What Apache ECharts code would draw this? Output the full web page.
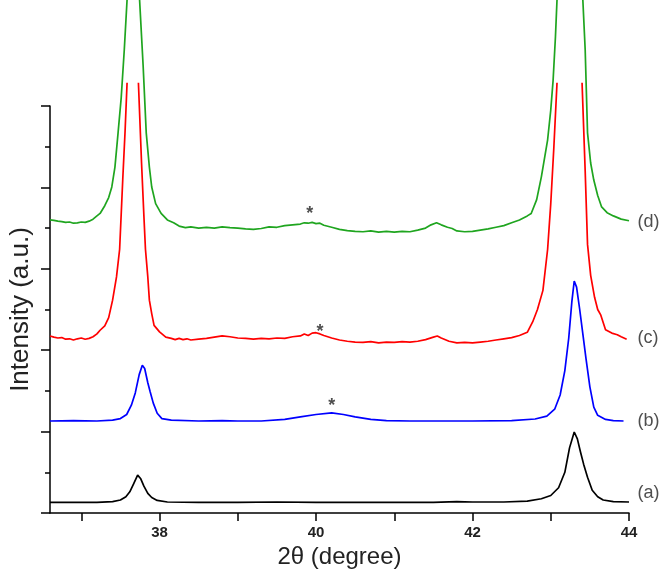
<!DOCTYPE html>
<html><head><meta charset="utf-8">
<script src="https://cdn.jsdelivr.net/npm/echarts@6/dist/echarts.min.js"></script>
<style>html,body{margin:0;padding:0;background:#fff}#c{width:661px;height:576px}</style>
</head><body><div id="c"></div>
<script>
// x-axis tick positions and labels
const xTickValues = [37, 38, 39, 40, 41, 42, 43, 44];
const xLabelValues = [38, 40, 42, 44];

// (a) black
const curveA = [[36.6,0.26],[36.9,0.26],[37.2,0.26],[37.4,0.28],[37.5,0.32],[37.57,0.40],[37.62,0.52],[37.67,0.72],[37.72,0.93],[37.76,0.84],[37.8,0.66],[37.85,0.48],[37.9,0.38],[37.97,0.31],[38.1,0.27],[38.5,0.26],[39.0,0.26],[39.5,0.27],[40.0,0.26],[40.5,0.26],[41.0,0.26],[41.5,0.26],[41.8,0.28],[42.0,0.27],[42.4,0.27],[42.7,0.29],[42.88,0.35],[43.0,0.43],[43.1,0.62],[43.18,1.0],[43.24,1.6],[43.3,1.99],[43.34,1.82],[43.38,1.5],[43.42,1.2],[43.47,0.88],[43.53,0.56],[43.6,0.40],[43.67,0.32],[43.8,0.28],[44.0,0.27]];

// (b) blue
const curveB = [[36.6,2.26],[36.9,2.27],[37.2,2.26],[37.4,2.28],[37.5,2.32],[37.58,2.42],[37.64,2.65],[37.69,2.95],[37.74,3.40],[37.78,3.63],[37.81,3.55],[37.85,3.2],[37.88,2.98],[37.92,2.70],[37.97,2.45],[38.03,2.32],[38.15,2.28],[38.5,2.26],[38.8,2.27],[39.0,2.26],[39.3,2.26],[39.6,2.30],[39.8,2.36],[40.0,2.42],[40.2,2.46],[40.35,2.42],[40.5,2.36],[40.7,2.30],[40.9,2.27],[41.2,2.26],[41.6,2.26],[42.0,2.26],[42.5,2.27],[42.8,2.31],[42.95,2.38],[43.05,2.55],[43.12,2.9],[43.18,3.5],[43.23,4.3],[43.27,5.2],[43.3,5.7],[43.33,5.55],[43.37,5.0],[43.41,4.4],[43.45,3.8],[43.5,3.1],[43.55,2.6],[43.6,2.40],[43.7,2.30],[43.8,2.27],[43.93,2.26]];

// (c) red (peak tops cut off in the original)
const curveC = [[36.6,4.35],[36.65,4.32],[36.7,4.30],[36.75,4.31],[36.8,4.27],[36.85,4.28],[36.9,4.25],[36.95,4.28],[37.0,4.30],[37.05,4.27],[37.1,4.29],[37.15,4.33],[37.2,4.40],[37.24,4.49],[37.3,4.6],[37.35,4.8],[37.4,5.23],[37.45,5.8],[37.49,6.48],[37.53,8.2],[37.56,9.4],[37.585,10.57],[37.66,null],[37.73,10.57],[37.77,8.6],[37.8,7.3],[37.82,6.48],[37.85,5.8],[37.87,5.23],[37.9,4.9],[37.93,4.61],[38.0,4.45],[38.08,4.32],[38.15,4.29],[38.2,4.26],[38.25,4.29],[38.3,4.26],[38.35,4.28],[38.4,4.25],[38.5,4.27],[38.6,4.29],[38.7,4.32],[38.8,4.35],[38.9,4.33],[39.0,4.30],[39.1,4.29],[39.2,4.27],[39.3,4.29],[39.4,4.28],[39.5,4.30],[39.6,4.29],[39.7,4.33],[39.8,4.35],[39.85,4.40],[39.9,4.36],[39.95,4.42],[40.0,4.43],[40.05,4.40],[40.1,4.36],[40.2,4.30],[40.3,4.25],[40.4,4.22],[40.5,4.20],[40.6,4.19],[40.7,4.21],[40.8,4.18],[40.9,4.20],[41.0,4.19],[41.1,4.21],[41.2,4.20],[41.3,4.22],[41.4,4.26],[41.5,4.32],[41.55,4.35],[41.6,4.30],[41.7,4.22],[41.8,4.18],[41.9,4.19],[42.0,4.18],[42.1,4.20],[42.2,4.22],[42.3,4.25],[42.4,4.28],[42.5,4.31],[42.6,4.36],[42.7,4.44],[42.77,4.70],[42.83,5.0],[42.9,5.47],[42.96,6.48],[43.0,7.6],[43.04,9.0],[43.08,10.57],[43.24,null],[43.4,10.57],[43.44,8.4],[43.47,6.6],[43.51,5.84],[43.56,5.3],[43.6,5.0],[43.64,4.86],[43.7,4.5],[43.78,4.42],[43.85,4.38],[43.9,4.33],[43.97,4.27]];

// (d) green (peak tops run off the top of the picture)
const curveD = [[36.6,7.20],[36.65,7.19],[36.7,7.17],[36.75,7.16],[36.8,7.14],[36.85,7.15],[36.9,7.12],[36.95,7.13],[37.0,7.15],[37.05,7.14],[37.1,7.17],[37.15,7.22],[37.2,7.30],[37.24,7.36],[37.3,7.55],[37.35,7.75],[37.39,8.01],[37.43,8.5],[37.47,9.34],[37.51,10.2],[37.55,11.4],[37.585,12.61],[37.665,14.5],[37.745,12.61],[37.79,11.0],[37.83,9.34],[37.87,8.5],[37.9,8.01],[37.95,7.6],[38.02,7.36],[38.1,7.20],[38.18,7.13],[38.25,7.05],[38.33,7.01],[38.4,7.03],[38.5,7.00],[38.6,7.02],[38.7,7.00],[38.8,7.03],[38.9,7.01],[39.0,7.00],[39.1,6.98],[39.2,6.97],[39.3,6.99],[39.4,7.03],[39.5,7.02],[39.6,7.06],[39.7,7.08],[39.8,7.10],[39.85,7.13],[39.9,7.12],[39.95,7.14],[40.0,7.11],[40.05,7.12],[40.1,7.07],[40.2,7.02],[40.3,6.97],[40.4,6.94],[40.5,6.92],[40.6,6.91],[40.7,6.93],[40.8,6.90],[40.9,6.92],[41.0,6.90],[41.1,6.92],[41.2,6.91],[41.3,6.95],[41.4,7.00],[41.47,7.08],[41.54,7.13],[41.6,7.08],[41.68,7.02],[41.74,6.99],[41.8,6.93],[41.9,6.91],[42.0,6.92],[42.1,6.95],[42.2,6.98],[42.3,7.02],[42.4,7.06],[42.5,7.13],[42.6,7.20],[42.7,7.30],[42.75,7.36],[42.82,7.7],[42.88,8.26],[42.96,9.17],[43.0,9.9],[43.03,10.63],[43.06,11.7],[43.08,12.61],[43.245,14.5],[43.41,12.61],[43.44,11.38],[43.47,9.34],[43.51,8.6],[43.55,8.18],[43.6,7.8],[43.65,7.52],[43.72,7.38],[43.8,7.30],[43.9,7.22],[44.0,7.18]];

// curve names at the right end
const curveNames = ['(a)', '(b)', '(c)', '(d)'];
const curveNameX = [44.0, 44.0, 44.0, 44.0];
const curveNameY = [0.48, 2.26, 4.30, 7.14];

// asterisk markers
const starX = [40.2, 40.05, 39.92];
const starY = [2.75, 4.57, 7.46];

const FONT = "'Liberation Sans', Arial, sans-serif";

const lineSeries = (data, color) => ({
  type: 'line', data: data, showSymbol: false, symbol: 'none', clip: false,
  connectNulls: false, animation: false,
  lineStyle: { color: color, width: 1.7 }
});

const chart = echarts.init(document.getElementById('c'), null, { renderer: 'canvas' });
chart.setOption({
  animation: false,
  backgroundColor: '#ffffff',
  grid: { left: 43, right: 32, top: 106, bottom: 63, containLabel: false },
  xAxis: {
    type: 'value', min: 36.6, max: 44,
    name: '2θ (degree)', nameLocation: 'middle', nameGap: 27,
    nameTextStyle: { fontFamily: FONT, fontSize: 24, color: '#222' },
    axisLine: { lineStyle: { color: '#000', width: 1.5 } },
    axisTick: { show: true, length: 8, inside: false, customValues: xTickValues, lineStyle: { color: '#000', width: 1.5 } },
    axisLabel: { show: true, customValues: xLabelValues, margin: 12, fontFamily: FONT, fontSize: 15, fontWeight: 'bold', color: '#222' },
    splitLine: { show: false }
  },
  yAxis: {
    type: 'value', min: 0, max: 10, interval: 2,
    name: 'Intensity (a.u.)', nameLocation: 'middle', nameGap: 16, nameRotate: 90,
    nameTextStyle: { fontFamily: FONT, fontSize: 26, color: '#222' },
    axisLine: { show: true, onZero: false, lineStyle: { color: '#000', width: 1.5 } },
    axisTick: { show: true, length: 9, lineStyle: { color: '#000', width: 1.5 } },
    minorTick: { show: true, splitNumber: 2, length: 5, lineStyle: { color: '#000', width: 1.5 } },
    axisLabel: { show: false },
    splitLine: { show: false }
  },
  series: [
    lineSeries(curveA, '#000000'),
    lineSeries(curveB, '#0000ff'),
    lineSeries(curveC, '#ff0000'),
    lineSeries(curveD, '#1fa51f'),
    {
      type: 'scatter', symbolSize: 1, clip: false, animation: false,
      itemStyle: { color: 'rgba(0,0,0,0)' },
      data: curveNames.map((n, i) => [curveNameX[i], curveNameY[i], n]),
      label: { show: true, position: 'right', distance: 8, formatter: p => p.data[2],
               fontFamily: FONT, fontSize: 18, color: '#222' }
    },
    {
      type: 'scatter', symbolSize: 1, clip: false, animation: false,
      itemStyle: { color: 'rgba(0,0,0,0)' },
      data: starX.map((x, i) => [x, starY[i]]),
      label: { show: true, position: 'inside', formatter: '*', offset: [0, 5],
               fontFamily: FONT, fontSize: 18, fontWeight: 'bold', color: '#222' }
    }
  ]
});
</script>
</body></html>
